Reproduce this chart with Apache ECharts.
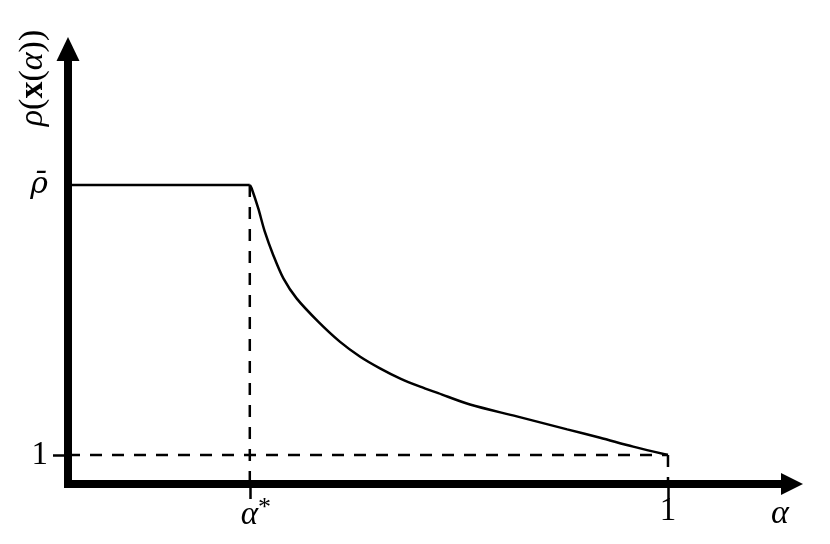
<!DOCTYPE html>
<html>
<head>
<meta charset="utf-8">
<script src="https://cdn.jsdelivr.net/npm/echarts@6/dist/echarts.min.js"></script>
<style>
html,body{margin:0;padding:0;background:#fff;}
#chart{width:830px;height:544px;}
</style>
</head>
<body>
<div id="chart"></div>
<script>
// ---- data ----
const alphaStar = 0.303;   // α*
const rhoBar = 2;          // ρ̄ (level of the plateau)
const plateauAlpha = [0, 0.303];
const plateauRho = [2, 2];
const curveAlpha = [0.303, 0.306, 0.317, 0.328, 0.342, 0.359, 0.381, 0.417, 0.453, 0.487, 0.520, 0.553, 0.587, 0.617, 0.670, 0.748, 0.832, 0.887, 0.942, 1.0];
const curveRho   = [2.000, 1.988, 1.914, 1.827, 1.741, 1.654, 1.580, 1.494, 1.420, 1.364, 1.321, 1.284, 1.253, 1.229, 1.187, 1.143, 1.095, 1.064, 1.031, 1.0];
const xTickValues = [0.303, 1];
const xTickLabels = ['α*', '1'];
const yTickValues = [1];
const yLabelValues = [1, 2];
const yLabelTexts = ['1', 'ρ̄'];
const xMin = 0, xMax = 1.2067;
const yMin = 0.8926, yMax = 2.5037;

const FONT = 'Liberation Serif';
const GFONT = 'DejaVu Serif';

const chart = echarts.init(document.getElementById('chart'), null, {renderer: 'canvas'});

const zip = (a, b) => a.map((v, i) => [v, b[i]]);

const option = {
  animation: false,
  backgroundColor: '#fff',
  grid: {left: 68, right: 38, top: 49, bottom: 60, containLabel: false},
  xAxis: {
    type: 'value', min: xMin, max: xMax,
    name: 'α', nameLocation: 'end', nameGap: -12,
    nameTextStyle: {fontFamily: FONT, fontStyle: 'italic', fontSize: 34, color: '#000',
      align: 'center', verticalAlign: 'top', padding: [13, 0, 0, 0]},
    axisLine: {show: true, symbol: ['none', 'triangle'], symbolSize: [22, 22],
      lineStyle: {color: '#000', width: 8}},
    axisTick: {show: true, customValues: xTickValues, length: 15, inside: false,
      lineStyle: {color: '#000', width: 2.5}},
    axisLabel: {show: true, customValues: xTickValues, margin: 11,
      formatter: v => (Math.abs(v - 1) < 1e-6 ? '{n|' + xTickLabels[1] + '}' : '{sp|}{a|α}{s|*}'),
      rich: {
        n: {fontFamily: FONT, fontSize: 33, color: '#000'},
        a: {fontFamily: FONT, fontStyle: 'italic', fontSize: 33, color: '#000'},
        s: {fontFamily: FONT, fontSize: 26, color: '#000', verticalAlign: 'top', padding: [0, 0, 14, 0]},
        sp: {width: 12}
      }},
    splitLine: {show: false}
  },
  yAxis: {
    type: 'value', min: yMin, max: yMax,
    name: '{i|ρ}({b|x}({i|α}))', nameLocation: 'end', nameRotate: 90, nameGap: -29,
    nameTextStyle: {fontFamily: FONT, fontSize: 34, color: '#000',
      align: 'center', verticalAlign: 'bottom', padding: [0, 0, 18, 0],
      rich: {
        i: {fontFamily: FONT, fontStyle: 'italic', fontSize: 34, color: '#000'},
        b: {fontFamily: FONT, fontWeight: 'bold', fontSize: 34, color: '#000'}
      }},
    axisLine: {show: true, symbol: ['none', 'triangle'], symbolSize: [23, 24],
      lineStyle: {color: '#000', width: 8, cap: 'square'}},
    axisTick: {show: true, customValues: yTickValues, length: 15, inside: false,
      lineStyle: {color: '#000', width: 2.5}},
    axisLabel: {show: true, customValues: yLabelValues, margin: 20,
      formatter: v => {
        const t = yLabelTexts[yLabelValues.findIndex(x => Math.abs(x - v) < 1e-6)];
        return t === '1' ? '{n|1}' : '{r|' + t + '}';
      },
      rich: {
        n: {fontFamily: FONT, fontSize: 33, color: '#000'},
        r: {fontFamily: GFONT, fontStyle: 'italic', fontSize: 30, color: '#000'}
      }},
    splitLine: {show: false}
  },
  series: [
    {type: 'line', data: zip(plateauAlpha, plateauRho), showSymbol: false,
      lineStyle: {color: '#000', width: 2.5}, z: 3},
    {type: 'line', data: zip(curveAlpha, curveRho), showSymbol: false, smooth: 0.3,
      lineStyle: {color: '#000', width: 2.5}, z: 3},
    {type: 'line', data: [[xMin, 1], [1, 1]], showSymbol: false,
      lineStyle: {color: '#000', width: 2.5, type: [12, 10]}, z: 2},
    {type: 'line', data: [[alphaStar, rhoBar], [alphaStar, yMin]], showSymbol: false,
      lineStyle: {color: '#000', width: 2.5, type: [12, 10]}, z: 2},
    {type: 'line', data: [[1, 1], [1, yMin]], showSymbol: false,
      lineStyle: {color: '#000', width: 2.5, type: [12, 10]}, z: 2}
  ]
};
chart.setOption(option);
</script>
</body>
</html>
